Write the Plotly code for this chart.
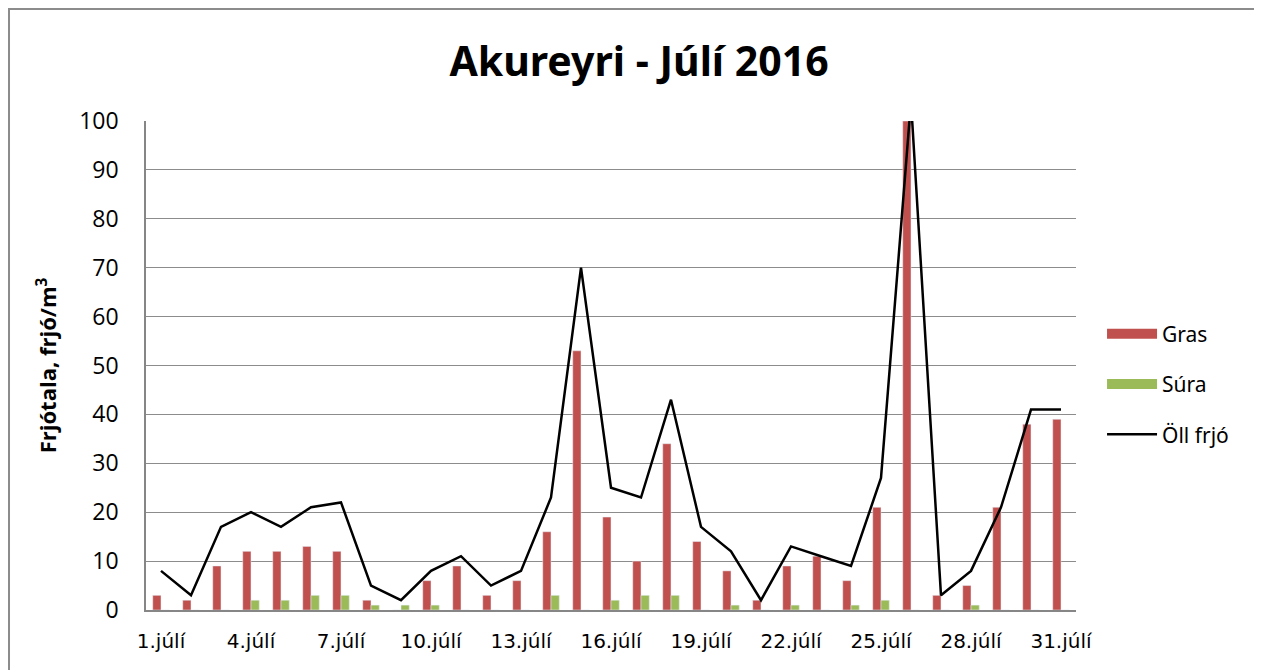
import plotly.graph_objects as go

days = [f"{d}.júlí" for d in range(1, 32)]
gras = [3, 2, 9, 12, 12, 13, 12, 2, 0, 6, 9, 3, 6, 16, 53, 19, 10, 34, 14, 8, 2, 9, 11, 6, 21, 100, 3, 5, 21, 38, 39]
sura = [0, 0, 0, 2, 2, 3, 3, 1, 1, 1, 0, 0, 0, 3, 0, 2, 3, 3, 0, 1, 0, 1, 0, 1, 2, 0, 0, 1, 0, 0, 0]
oll = [8, 3, 17, 20, 17, 21, 22, 5, 2, 8, 11, 5, 8, 23, 70, 25, 23, 43, 17, 12, 2, 13, 11, 9, 27, 104, 3, 8, 21, 41, 41]
tick_labels = days[::3]

RED = "#C0504D"
GREEN = "#9BBB59"

fig = go.Figure()
fig.add_trace(go.Bar(x=days, y=gras, name="Gras", marker_color=RED, showlegend=False))
fig.add_trace(go.Bar(x=days, y=sura, name="Súra", marker_color=GREEN, showlegend=False))
fig.add_trace(go.Scatter(x=days, y=oll, name="Öll frjó", mode="lines",
                         line=dict(color="black", width=2.5), showlegend=False))
# legend entries
fig.add_trace(go.Scatter(x=[None], y=[None], name="Gras", mode="lines",
                         line=dict(color=RED, width=15), legendgroup="a"))
fig.add_trace(go.Scatter(x=[None], y=[None], name="Súra", mode="lines",
                         line=dict(color=GREEN, width=15), legendgroup="b"))
fig.add_trace(go.Scatter(x=[None], y=[None], name="Öll frjó", mode="lines",
                         line=dict(color="black", width=2.5), legendgroup="c"))

fig.update_layout(
    width=1262, height=670,
    margin=dict(l=138, r=194, t=113, b=68),
    paper_bgcolor="white", plot_bgcolor="white",
    barmode="group", bargap=0.45, bargroupgap=0,
    title=dict(text="<b>Akureyri - Júlí 2016</b>", x=0.5, xanchor="center",
               y=0.92, yanchor="middle",
               font=dict(family="Noto Sans", size=41, color="black")),
    legend=dict(x=1.028, y=0.462, xanchor="left", yanchor="middle",
                font=dict(family="Noto Sans", size=21, color="black"),
                traceorder="grouped", tracegroupgap=20, itemwidth=50),
    showlegend=True,
    xaxis=dict(tickmode="array", tickvals=tick_labels, ticktext=tick_labels,
               tickfont=dict(family="DejaVu Sans", size=20, color="black"),
               showline=True, linecolor="#868686", linewidth=1.5,
               ticks="", showgrid=False, ticklabelstandoff=12),
    yaxis=dict(range=[0, 100], dtick=10,
               tickfont=dict(family="Open Sans", size=23, color="black"),
               showline=True, linecolor="#868686", linewidth=1.5,
               gridcolor="#8c8c8c", gridwidth=1, zeroline=False,
               ticks="", ticklabelstandoff=21,
               title=dict(text="<b>Frjótala, frjó/m<sup>3</sup></b>",
                          font=dict(family="Open Sans", size=22, color="black"),
                          standoff=16)),
)

fig.add_shape(type="rect", xref="paper", yref="paper",
              x0=-0.1473, x1=1.1978, y0=-0.25, y1=1.229,
              line=dict(color="#8c8c8c", width=2), fillcolor="rgba(0,0,0,0)", layer="below")

fig.write_html("out.html")
